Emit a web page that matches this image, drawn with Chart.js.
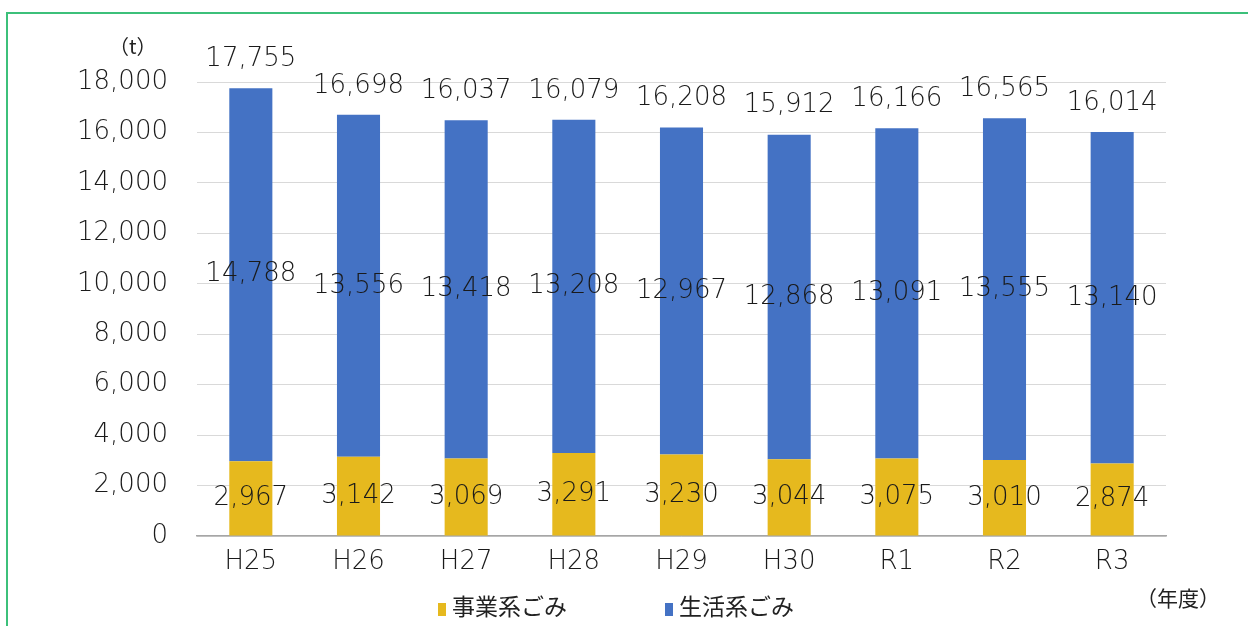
<!DOCTYPE html>
<html lang="ja">
<head>
    <meta charset="UTF-8">
    <title>ごみ排出量の推移</title>
    <script src="https://cdn.jsdelivr.net/npm/chart.js"></script>
    <style>
        body {
            margin: 0;
            padding: 0;
            background: #fff;
            overflow: hidden;
        }
        .wrap {
            position: relative;
            width: 1248px;
            height: 626px;
        }
        .frame {
            position: absolute;
            left: 6px;
            top: 12px;
            width: 1300px;
            height: 700px;
            border: 2px solid #3cc07a;
        }
        canvas {
            position: absolute;
            left: 0;
            top: 0;
        }
        .note {
            position: absolute;
            font-family: "Noto Sans CJK JP", sans-serif;
            color: #222;
            white-space: nowrap;
        }
        .unit { left: 109px; top: 31px; font-size: 20px; }
        .year { left: 1136px; top: 582px; font-size: 21px; }
        .legend {
            position: absolute;
            top: 588px;
            font-family: "Noto Sans CJK JP", sans-serif;
            font-size: 23px;
            color: #222;
            white-space: nowrap;
        }
        .legend span.box {
            display: inline-block;
            width: 8px;
            height: 13px;
            margin-right: 6px;
            vertical-align: -1px;
        }
    </style>
</head>
<body>
<div class="wrap">
    <div class="frame"></div>
    <canvas id="gomiChart" width="1248" height="626"></canvas>
    <div class="note unit">（t）</div>
    <div class="note year">（年度）</div>
    <div class="legend" id="leg0" style="left:438px"></div>
    <div class="legend" id="leg1" style="left:665px"></div>
</div>

<script>
    // 年度
    const years = ['H25', 'H26', 'H27', 'H28', 'H29', 'H30', 'R1', 'R2', 'R3'];
    // 事業系ごみ (t)
    const business = [2967, 3142, 3069, 3291, 3230, 3044, 3075, 3010, 2874];
    // 生活系ごみ (t)
    const household = [14788, 13556, 13418, 13208, 12967, 12868, 13091, 13555, 13140];
    // 合計ラベル (as printed on the chart)
    const totals = [17755, 16698, 16037, 16079, 16208, 15912, 16166, 16565, 16014];
    const yTicks = [0, 2000, 4000, 6000, 8000, 10000, 12000, 14000, 16000, 18000];

    const seriesNames = ['事業系ごみ', '生活系ごみ'];
    const colors = ['#E6B91E', '#4472C4'];
    const numFont = '"DejaVu Sans", sans-serif';

    const fmt = v => v.toLocaleString('en-US');

    // draws the value labels inside the bars and the totals above
    const valueLabels = {
        id: 'valueLabels',
        afterDatasetsDraw(chart) {
            const ctx = chart.ctx;
            ctx.save();
            ctx.font = '200 26px ' + numFont;
            ctx.fillStyle = '#1a1a1a';
            ctx.textAlign = 'center';
            ctx.textBaseline = 'middle';
            chart.data.datasets.forEach((ds, di) => {
                const meta = chart.getDatasetMeta(di);
                meta.data.forEach((bar, i) => {
                    ctx.fillText(fmt(ds.data[i]), bar.x, (bar.y + bar.base) / 2);
                });
            });
            const top = chart.getDatasetMeta(chart.data.datasets.length - 1);
            top.data.forEach((bar, i) => {
                ctx.fillText(fmt(totals[i]), bar.x, bar.y - 29);
            });
            ctx.restore();
        }
    };

    const ctx = document.getElementById('gomiChart').getContext('2d');
    new Chart(ctx, {
        type: 'bar',
        data: {
            labels: years,
            datasets: [
                {
                    label: seriesNames[0],
                    data: business,
                    backgroundColor: colors[0],
                    barPercentage: 0.8,
                    categoryPercentage: 0.5
                },
                {
                    label: seriesNames[1],
                    data: household,
                    backgroundColor: colors[1],
                    barPercentage: 0.8,
                    categoryPercentage: 0.5
                }
            ]
        },
        options: {
            responsive: false,
            animation: false,
            layout: {
                padding: { left: 0, right: 82, top: 82, bottom: 0 }
            },
            plugins: {
                legend: { display: false },
                tooltip: { enabled: false }
            },
            scales: {
                x: {
                    stacked: true,
                    grid: { display: false, drawTicks: false },
                    border: { color: '#a6a6a6', width: 1.5 },
                    ticks: {
                        color: '#1a1a1a',
                        padding: 11,
                        font: { family: numFont, size: 26, weight: '200' }
                    },
                    afterFit(scale) { scale.height = 90; }
                },
                y: {
                    stacked: true,
                    min: 0,
                    max: 18000,
                    afterBuildTicks(scale) {
                        scale.ticks = yTicks.map(v => ({ value: v }));
                    },
                    grid: { color: '#d9d9d9', lineWidth: 1, drawTicks: false },
                    border: { display: false },
                    ticks: {
                        color: '#1a1a1a',
                        padding: 29,
                        font: { family: numFont, size: 26, weight: '200' },
                        callback: v => fmt(v)
                    },
                    afterFit(scale) { scale.width = 197; }
                }
            }
        },
        plugins: [valueLabels]
    });

    // legend built from the same names/colours
    seriesNames.forEach((name, i) => {
        const el = document.getElementById('leg' + i);
        el.innerHTML = '<span class="box" style="background:' + colors[i] + '"></span>' + name;
    });
</script>
</body>
</html>
